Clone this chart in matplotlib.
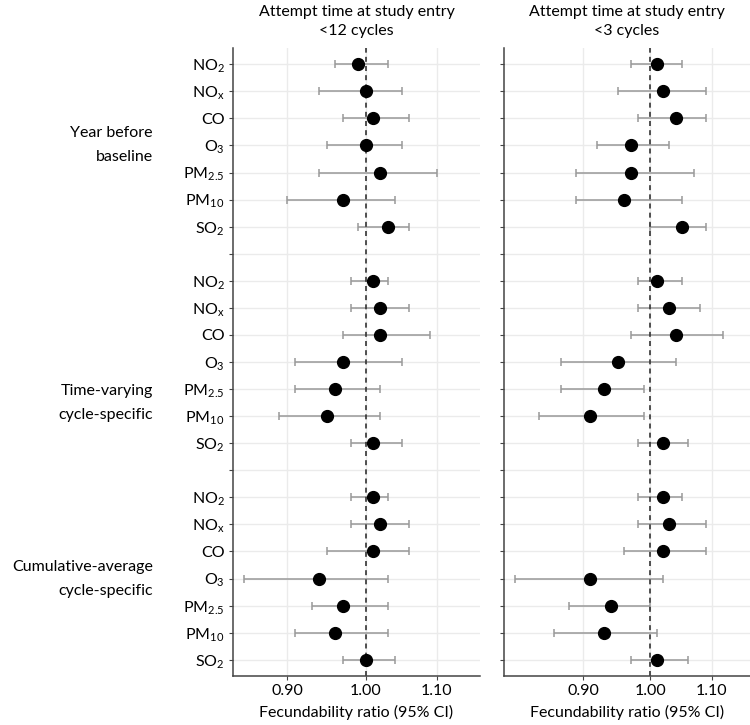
import matplotlib
matplotlib.use("Agg")
import matplotlib.pyplot as plt
from matplotlib.ticker import FixedLocator, NullLocator
import numpy as np

plt.rcParams['font.family'] = ['Lato', 'DejaVu Sans']
plt.rcParams['mathtext.fontset'] = 'custom'
plt.rcParams['mathtext.rm'] = 'Lato'
plt.rcParams['mathtext.it'] = 'Lato:italic'

pollutants = [r'NO$_2$', r'NO$_\mathregular{x}$', 'CO', r'O$_3$',
              r'PM$_{2.5}$', r'PM$_{10}$', r'SO$_2$']
groups = ['Year before\nbaseline', 'Time-varying\ncycle-specific',
          'Cumulative-average\ncycle-specific']
group_label_rows = [3.0, 12.5, 19.0]
titles = ['Attempt time at study entry\n<12 cycles',
          'Attempt time at study entry\n<3 cycles']

# <12 cycles: estimate, lower, upper for each group (7 pollutants)
fr12 = [[0.99, 1.00, 1.01, 1.00, 1.02, 0.97, 1.03],
        [1.01, 1.02, 1.02, 0.97, 0.96, 0.95, 1.01],
        [1.01, 1.02, 1.01, 0.94, 0.97, 0.96, 1.00]]
lo12 = [[0.96, 0.94, 0.97, 0.95, 0.94, 0.90, 0.99],
        [0.98, 0.98, 0.97, 0.91, 0.91, 0.89, 0.98],
        [0.98, 0.98, 0.95, 0.85, 0.93, 0.91, 0.97]]
hi12 = [[1.03, 1.05, 1.06, 1.05, 1.10, 1.04, 1.06],
        [1.03, 1.06, 1.09, 1.05, 1.02, 1.02, 1.05],
        [1.03, 1.06, 1.06, 1.03, 1.03, 1.03, 1.04]]

# <3 cycles
fr3 = [[1.01, 1.02, 1.04, 0.97, 0.97, 0.96, 1.05],
       [1.01, 1.03, 1.04, 0.95, 0.93, 0.91, 1.02],
       [1.02, 1.03, 1.02, 0.91, 0.94, 0.93, 1.01]]
lo3 = [[0.97, 0.95, 0.98, 0.92, 0.89, 0.89, 1.00],
       [0.98, 0.98, 0.97, 0.87, 0.87, 0.84, 0.98],
       [0.98, 0.98, 0.96, 0.81, 0.88, 0.86, 0.97]]
hi3 = [[1.05, 1.09, 1.09, 1.03, 1.07, 1.05, 1.09],
       [1.05, 1.08, 1.12, 1.04, 0.99, 0.99, 1.06],
       [1.05, 1.09, 1.09, 1.02, 1.00, 1.01, 1.06]]

panels = [(fr12, lo12, hi12, (0.837, 1.166)),
          (fr3, lo3, hi3, (0.795, 1.168))]

n_rows = len(groups) * (len(pollutants) + 1) - 1
tick_labels = []
for g in range(len(groups)):
    tick_labels += pollutants
    if g < len(groups) - 1:
        tick_labels.append('')

W, H = 750, 725
fig = plt.figure(figsize=(W / 100, H / 100), dpi=100)
axes_px = [(233, 480), (503.5, 750)]
top_px, bot_px = 48, 676

for k, (est, lo, hi, xl) in enumerate(panels):
    x0, x1 = axes_px[k]
    ax = fig.add_axes([x0 / W, (H - bot_px) / H, (x1 - x0) / W, (bot_px - top_px) / H])
    ax.set_xscale('log')
    for g in range(len(groups)):
        ys = np.arange(len(pollutants)) + g * (len(pollutants) + 1)
        e = np.array(est[g])
        ax.errorbar(e, ys, xerr=[e - np.array(lo[g]), np.array(hi[g]) - e],
                    fmt='none', ecolor='#999999', elinewidth=1.1,
                    capsize=2.8, capthick=1.1, zorder=2)
        ax.plot(e, ys, 'o', color='black', markersize=8.5, zorder=3)
    ax.axvline(1.0, color='#333333', linestyle=(0, (3, 2.5)), linewidth=1.2, zorder=2.5)

    ax.set_xlim(*xl)
    ax.set_ylim(n_rows - 0.4, -0.6)
    ax.xaxis.set_major_locator(FixedLocator([0.9, 1.0, 1.1]))
    ax.xaxis.set_minor_locator(NullLocator())
    ax.set_xticklabels(['0.90', '1.00', '1.10'])
    ax.set_yticks(np.arange(n_rows))
    if k == 0:
        ax.set_yticklabels(tick_labels)
    else:
        ax.set_yticklabels([])
    ax.grid(True, color='#ebebeb', linewidth=1.0, zorder=0)
    ax.set_axisbelow(True)
    for s in ['top', 'right']:
        ax.spines[s].set_visible(False)
    for s in ['left', 'bottom']:
        ax.spines[s].set_color('#444444')
        ax.spines[s].set_linewidth(1.1)
    ax.tick_params(axis='both', colors='#444444', length=3, width=0.8,
                   labelcolor='black', labelsize=11.5, pad=3)
    ax.set_xlabel('Fecundability ratio (95% CI)', fontsize=11.5, labelpad=5)
    ax.set_title(titles[k], fontsize=11.5, pad=9.5, linespacing=1.45)

    if k == 0:
        for lab, r in zip(groups, group_label_rows):
            ax.text(153, ax.transData.transform((1.0, r))[1], lab,
                    transform=None, ha='right', va='center',
                    fontsize=11.5, linespacing=1.9)

fig.savefig('out.png', dpi=100)
